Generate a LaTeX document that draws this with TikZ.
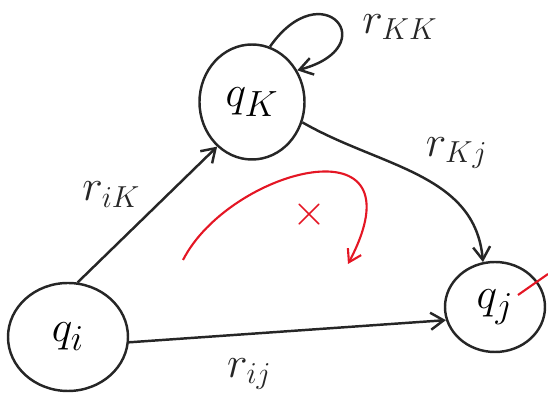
\documentclass[tikz,border=0pt]{standalone}
\usepackage{xcolor}
\usepackage{tikz}
\usetikzlibrary{shapes.geometric, arrows.meta, positioning}
\definecolor{ink}{RGB}{38,38,38}
\definecolor{pen}{RGB}{228,22,36}

\begin{document}
\begin{tikzpicture}[line width=1.4pt, draw=ink,
  state/.style={ellipse, draw=ink, line width=1.4pt, inner sep=0pt,
                font=\fontsize{32}{36}\selectfont},
  lbl/.style={font=\fontsize{25}{28}\selectfont, text=ink},
  a/.style={-{Straight Barb[length=2.6mm, width=3.4mm]}, ink}]
  \useasboundingbox (0,0) rectangle (10.96,8.26);
  \node[state, minimum width=2.4cm, minimum height=2.16cm] (qi) at (1.36,1.52) {$q_i$};
  \node[state, minimum width=2.1cm, minimum height=2.3cm] (qk) at (5.04,6.22) {$q_K$};
  \node[state, minimum width=2.0cm, minimum height=1.8cm] (qj) at (9.9,2.12) {$q_j$};
  % transitions
  \draw[a] (qi.80) -- node[lbl, above left=0pt] {$r_{iK}$} (qk.232);
  \draw[a] (qk.-22) to[out=-30, in=95] node[lbl, above right=0pt] {$r_{Kj}$} (qj.105);
  \draw[a] (qi.-5) -- node[lbl, below=10pt, pos=0.38] {$r_{ij}$} (qj.195);
  \draw[a] (qk.72) to[out=55, in=15, looseness=6.5] (qk.35);
  \node[lbl] (rkk) at (8.0,7.72) {$r_{KK}$};
  % red remark
  \coordinate (rs) at (3.66,3.06);
  \coordinate (re) at (6.96,2.98);
  \draw[pen, line width=1.2pt, -{Straight Barb[length=2.4mm, width=3mm]}]
    (rs) .. controls (4.6,4.9) and (8.5,5.9) .. (re);
  \node[text=pen, font=\fontsize{34}{36}\selectfont] (x) at (6.2,3.96) {$\times$};
  \coordinate (m1) at (10.36,2.36);
  \coordinate (m2) at (10.96,2.78);
  \draw[pen, line width=1.2pt] (m1) -- (m2);
\end{tikzpicture}
\end{document}
